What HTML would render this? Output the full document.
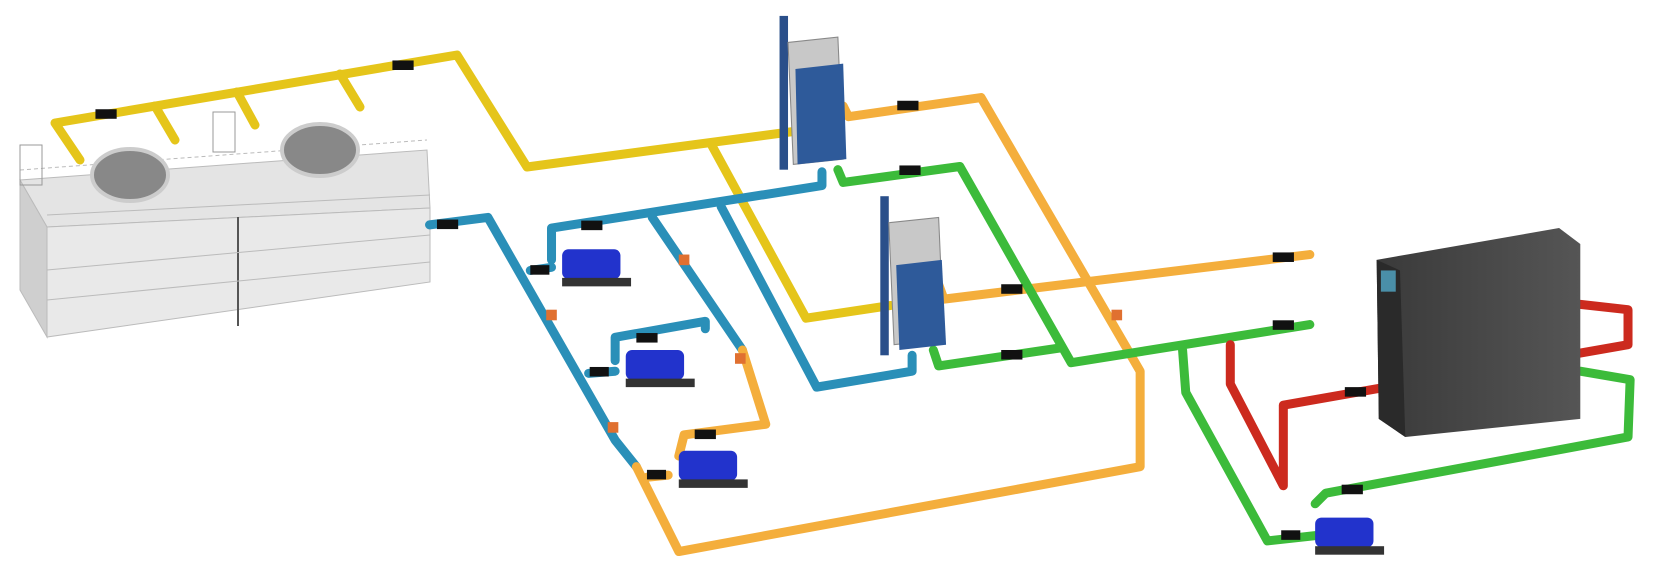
<!DOCTYPE html>
<html><head><meta charset="utf-8"><style>html,body{margin:0;padding:0;background:#fff;}svg{display:block}</style></head>
<body>
<svg width="1663" height="568" viewBox="0 0 1663 568" xmlns="http://www.w3.org/2000/svg">
<defs>
<linearGradient id="cab" x1="0" x2="1"><stop offset="0" stop-color="#3a3a3a"/><stop offset="1" stop-color="#555"/></linearGradient>
</defs>
<!-- cooling towers -->
<g stroke="#bbb" stroke-width="1">
<polygon points="20,180 427,150 430,208 47,227" fill="#e4e4e4"/>
<polygon points="20,180 47,227 47,337 20,290" fill="#cfcfcf"/>
<polygon points="47,227 430,208 430,282 47,337" fill="#e9e9e9"/>
<line x1="238" y1="217" x2="238" y2="326" stroke="#555" stroke-width="2"/>
<line x1="47" y1="270" x2="430" y2="235"/>
<line x1="47" y1="300" x2="430" y2="262"/>
<line x1="20" y1="170" x2="427" y2="140" stroke-dasharray="4 3"/>
<line x1="47" y1="215" x2="430" y2="195"/>
</g>
<ellipse cx="130" cy="175" rx="38" ry="26" fill="#888" stroke="#ccc" stroke-width="4"/>
<ellipse cx="320" cy="150" rx="38" ry="26" fill="#888" stroke="#ccc" stroke-width="4"/>
<rect x="20" y="145" width="22" height="40" fill="none" stroke="#999"/>
<rect x="213" y="112" width="22" height="40" fill="none" stroke="#999"/>
<g fill="none" stroke-linejoin="round" stroke-linecap="round" stroke-width="9" stroke="#e5c51a">
<polyline points="80,160 55,123 457,55 527,167 827,127"/>
<polyline points="175,140 155,106"/>
<polyline points="255,125 237,92"/>
<polyline points="360,107 340,74"/>
</g>
<g transform="scale(1.0606)">
<g fill="none" stroke-linejoin="round" stroke-linecap="round" stroke-width="8.5">
<g stroke="#e5c51a">
<polyline points="670,135 760,300 840,288"/>
<polyline points="763,96 780,112"/>
</g>
<g stroke="#2a8fb8">
<polyline points="405,212 460,205 580,415 600,440"/>
<polyline points="520,245 520,215 775,175 775,162"/>
<polyline points="680,195 770,365 860,350 860,335"/>
<polyline points="615,205 700,330"/>
<polyline points="580,340 580,318 665,303 665,310"/>
<polyline points="500,255 520,252"/>
<polyline points="555,352 580,350"/>
</g>
<g stroke="#f4ae3c">
<polyline points="795,100 800,110 925,92 1075,350 1075,440 640,520 600,440"/>
<polyline points="885,268 890,282 1235,240"/>
<polyline points="700,330 722,400 645,410 640,430"/>
<polyline points="610,450 630,448"/>
</g>
<g stroke="#3cbb3a">
<polyline points="790,160 795,172 905,157 1010,342 1235,306"/>
<polyline points="880,330 885,345 1000,328"/>
<polyline points="1115,330 1118,370 1195,510 1240,505"/>
<polyline points="1240,475 1250,465 1535,412 1537,358 1490,350"/>
</g>
<g stroke="#cc2a1e">
<polyline points="1160,325 1160,362 1210,458 1210,382 1535,325 1535,292 1490,287"/>
</g>
</g>
<g fill="#111">
<rect x="370" y="57" width="20" height="9"/><rect x="90" y="103" width="20" height="9"/>
<rect x="412" y="207" width="20" height="9"/><rect x="846" y="95" width="20" height="9"/>
<rect x="848" y="156" width="20" height="9"/><rect x="1200" y="238" width="20" height="9"/>
<rect x="1200" y="302" width="20" height="9"/><rect x="944" y="268" width="20" height="9"/>
<rect x="944" y="330" width="20" height="9"/><rect x="1268" y="365" width="20" height="9"/>
<rect x="1265" y="457" width="20" height="9"/><rect x="548" y="208" width="20" height="9"/>
<rect x="655" y="405" width="20" height="9"/><rect x="600" y="314" width="20" height="9"/>
<rect x="500" y="250" width="18" height="9"/><rect x="556" y="346" width="18" height="9"/>
<rect x="610" y="443" width="18" height="9"/><rect x="1208" y="500" width="18" height="9"/>
</g>
<g>
<rect x="735" y="15" width="8" height="145" fill="#2a4f8a"/>
<polygon points="743,40 790,35 795,150 748,155" fill="#c8c8c8" stroke="#888"/>
<polygon points="750,65 795,60 798,150 752,155" fill="#2e5a9a"/>
<rect x="830" y="185" width="8" height="150" fill="#2a4f8a"/>
<polygon points="838,210 885,205 890,320 843,325" fill="#c8c8c8" stroke="#888"/>
<polygon points="845,250 888,245 892,325 848,330" fill="#2e5a9a"/>
</g>
<g fill="#2233cc">
<rect x="530" y="235" width="55" height="28" rx="6"/><rect x="530" y="262" width="65" height="8" fill="#333"/>
<rect x="590" y="330" width="55" height="28" rx="6"/><rect x="590" y="357" width="65" height="8" fill="#333"/>
<rect x="640" y="425" width="55" height="28" rx="6"/><rect x="640" y="452" width="65" height="8" fill="#333"/>
<rect x="1240" y="488" width="55" height="28" rx="6"/><rect x="1240" y="515" width="65" height="8" fill="#333"/>
</g>
<g fill="#e07030">
<rect x="515" y="292" width="10" height="10"/><rect x="640" y="240" width="10" height="10"/>
<rect x="693" y="333" width="10" height="10"/><rect x="573" y="398" width="10" height="10"/>
<rect x="1048" y="292" width="10" height="10"/>
</g>
<polygon points="1298,245 1470,215 1490,230 1490,395 1325,412 1300,395" fill="url(#cab)"/>
<polygon points="1298,245 1320,255 1325,412 1300,395" fill="#2a2a2a"/>
<rect x="1302" y="255" width="14" height="20" fill="#4a8fa8"/>
</g>
</svg>
</body></html>
